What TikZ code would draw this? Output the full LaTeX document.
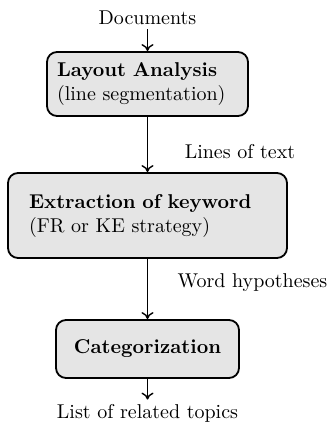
\documentclass[tikz,border=0pt]{standalone}
\usetikzlibrary{arrows.meta}
\begin{document}
\begin{tikzpicture}[x=0.5pt,y=-0.5pt,
  procbox/.style={draw=black, line width=0.9pt, fill=gray!20, rounded corners=5pt, align=left},
  flow/.style={line width=0.7pt, -{To[length=3.5pt,width=6pt]}},
  lbl/.style={inner sep=2pt}]
\useasboundingbox (0,0) rectangle (331,423);
\node[lbl] (docs) at (147.5,18) {Documents};
\node[procbox, minimum width=100.5pt, minimum height=32pt, inner xsep=5pt, text width=90.5pt] (b1) at (147.5,84)
  {\textbf{Layout Analysis}\\(line segmentation)};
\node[procbox, minimum width=139.5pt, minimum height=42.5pt, inner xsep=10.5pt, text width=118.5pt] (b2) at (147.5,215.5)
  {\textbf{Extraction of keyword}\\(FR or KE strategy)};
\node[procbox, minimum width=91.5pt, minimum height=29pt, align=center] (b3) at (147.5,349)
  {\textbf{Categorization}};
\node[lbl] (out) at (147.5,413) {List of related topics};
\node[lbl] (l1) at (240,152) {Lines of text};
\node[lbl] (l2) at (252.5,283) {Word hypotheses};
\draw[flow] (docs.south) -- (b1.north);
\draw[flow] (b1.south) -- (b2.north);
\draw[flow] (b2.south) -- (b3.north);
\draw[flow] (b3.south) -- (out.north);
\end{tikzpicture}
\end{document}
